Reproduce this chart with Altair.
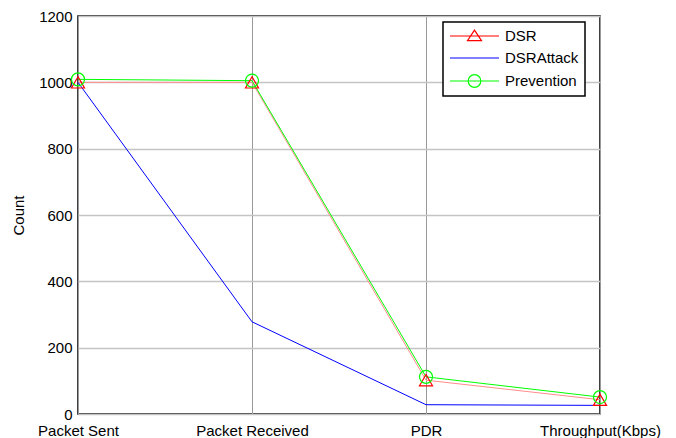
import altair as alt
import pandas as pd

categories = ["Packet Sent", "Packet Received", "PDR", "Throughput(Kbps)"]
series = ["DSR", "DSRAttack", "Prevention"]
dsr = [1000, 1000, 102, 43]
dsr_attack = [1000, 278, 28, 26]
prevention = [1009, 1005, 112, 51]
y_ticks = [0, 200, 400, 600, 800, 1000, 1200]

line_colors = ["#ff8c8c", "#0000ff", "#00ff00"]
marker_colors = ["#ff0000", "#0000ff", "#00ff00"]
marker_series = ["DSR", "Prevention"]
marker_shapes = ["triangle-up", "circle"]

# legend symbols: line segment with marker (custom paths)
legend_paths = [
    "M-1,0H6M2.5,-0.85L3.5,0.65L1.5,0.65Z",
    "M-1,0H6",
    "M-1,0H6M1.6,0A0.9,0.9 0 1,0 3.4,0A0.9,0.9 0 1,0 1.6,0",
]

rows = []
for name, vals in zip(series, [dsr, dsr_attack, prevention]):
    for i, (c, v) in enumerate(zip(categories, vals)):
        rows.append({"series": name, "category": c, "idx": i, "value": v})
df = pd.DataFrame(rows)

FONT = "Liberation Sans"

x_enc = alt.X(
    "category:N",
    sort=categories,
    scale=alt.Scale(type="point", padding=0),
    axis=alt.Axis(
        title=None, labelAngle=0, grid=True, gridColor="#999999", gridWidth=1,
        domain=False, ticks=False, labelPadding=9, labelFontSize=15,
        labelColor="black", labelFont=FONT,
    ),
)
y_enc = alt.Y(
    "value:Q",
    scale=alt.Scale(domain=[0, 1200], nice=False),
    axis=alt.Axis(
        title="Count", values=y_ticks, format="d", grid=True, gridColor="#c4c4c4", gridWidth=1.5,
        domain=False, ticks=False, labelPadding=6, labelFontSize=15,
        labelColor="black", labelFont=FONT, titleFont=FONT, titleFontSize=15,
        titleFontWeight="normal", titleColor="black", titlePadding=12,
    ),
)

base = alt.Chart(df)

lines = base.mark_line(strokeWidth=1).encode(
    x=x_enc,
    y=y_enc,
    color=alt.Color("series:N", scale=alt.Scale(domain=series, range=line_colors), legend=None),
    order=alt.Order("idx:Q"),
)

markers = base.transform_filter(
    alt.FieldOneOfPredicate(field="series", oneOf=marker_series)
).mark_point(filled=False, strokeWidth=1.2, size=170, opacity=1).encode(
    x=x_enc,
    y=y_enc,
    color=alt.Color("series:N", scale=alt.Scale(domain=marker_series, range=["#ff0000", "#00ff00"]), legend=None),
    shape=alt.Shape("series:N", scale=alt.Scale(domain=marker_series, range=marker_shapes), legend=None),
)

legend = alt.Legend(
    title=None, orient="none", legendX=365, legendY=6,
    labelFontSize=15, labelFont=FONT, labelColor="black", labelOffset=40,
    symbolSize=196, symbolStrokeWidth=1.2, symbolOpacity=1,
    padding=6, rowPadding=6, strokeColor="black", fillColor="white",
)

carrier = base.mark_point(filled=False, opacity=0).encode(
    x=x_enc,
    y=y_enc,
    color=alt.Color("series:N", scale=alt.Scale(domain=series, range=marker_colors), legend=legend),
    shape=alt.Shape("series:N", scale=alt.Scale(domain=series, range=legend_paths), legend=legend),
)

chart = alt.layer(lines, markers, carrier).resolve_scale(
    color="independent", shape="independent"
).properties(
    width=522,
    height=398,
    autosize=alt.AutoSizeParams(type="none"),
    padding={"left": 70, "top": 8, "right": 68, "bottom": 24},
).configure(font=FONT).configure_view(
    stroke="black", strokeWidth=1.5
).configure_legend(strokeWidth=1.5)

chart.save("out.html", embed_options={"renderer": "svg", "actions": False})
